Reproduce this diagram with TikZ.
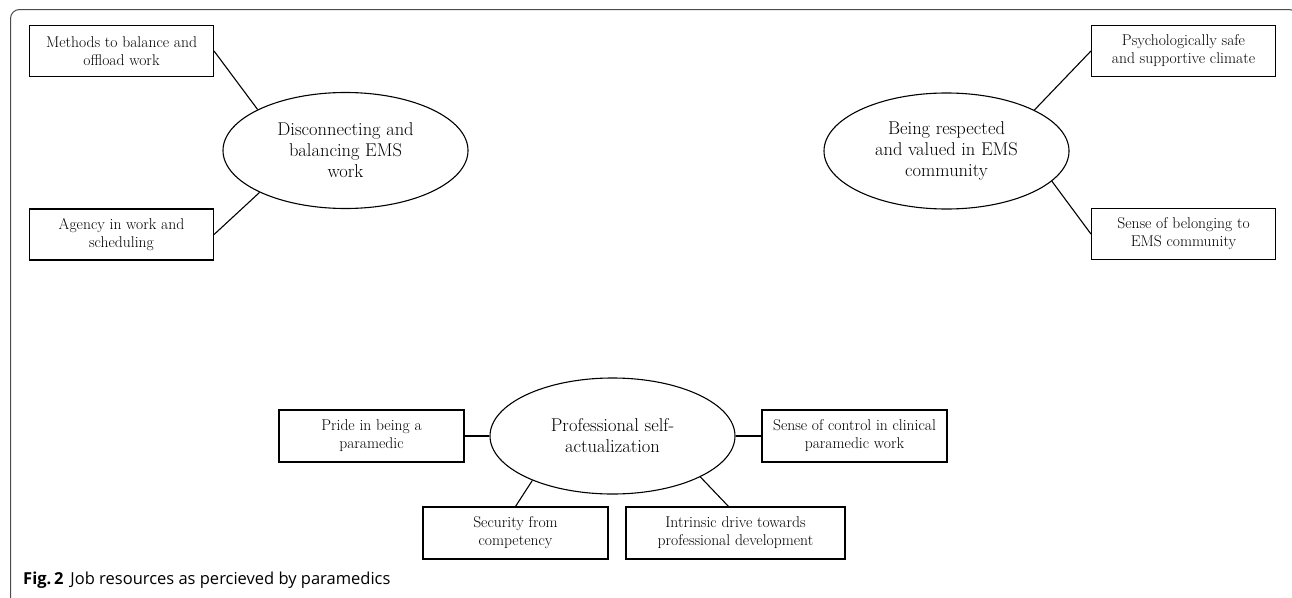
\documentclass[tikz,border=0pt]{standalone}
\usepackage{fontspec}
\newfontfamily\capfont{Open Sans}
\usetikzlibrary{shapes.geometric,calc}
\tikzset{
  boxnode/.style={draw=black, line width=1.1pt, rectangle, align=center, inner sep=0pt,
    minimum width=184pt, minimum height=51pt, font=\fontsize{15.6}{18}\selectfont},
  ellnode/.style={draw=black, line width=1.1pt, ellipse, align=center, inner sep=0pt,
    minimum width=245pt, minimum height=116pt, font=\fontsize{18.5}{21}\selectfont},
  link/.style={draw=black, line width=1.1pt},
  framepath/.style={draw=black!70, line width=1pt, rounded corners=9pt}
}
\begin{document}
\begin{tikzpicture}[x=1pt, y=-1pt]
\clip (0,0) rectangle (1292,597);
\fill[white] (0,0) rectangle (1292,597);
\draw[framepath] (10.5,605) -- (10.5,9.5) -- (1298,9.5) -- (1298,605);

% top-left group
\node[boxnode] (b1) at (121.5,51) {Methods to balance and\\offload work};
\node[boxnode] (b2) at (121.5,234.5) {Agency in work and\\scheduling};
\node[ellnode] (e1) at (345.5,150.5) {Disconnecting and\\balancing EMS\\work};

% top-right group
\node[boxnode] (b3) at (1183.5,51) {Psychologically safe\\and supportive climate};
\node[boxnode] (b4) at (1183.5,234) {Sense of belonging to\\EMS community};
\node[ellnode] (e2) at (946.5,151) {Being respected\\and valued in EMS\\community};

% bottom group
\node[ellnode] (e3) at (612.5,436) {Professional self-\\actualization};
\node[boxnode, minimum width=185pt, minimum height=52pt] (b5) at (371.5,436) {Pride in being a\\paramedic};
\node[boxnode, minimum width=185pt, minimum height=52pt] (b6) at (854.5,436) {Sense of control in clinical\\paramedic work};
\node[boxnode, minimum width=185pt, minimum height=52pt] (b7) at (515.5,533) {Security from\\competency};
\node[boxnode, minimum width=219pt, minimum height=52pt] (b8) at (735.5,533) {Intrinsic drive towards\\professional development};

% connectors
\draw[link] (b1.east) -- (e1.155);
\draw[link] (b2.east) -- (e1.206);
\draw[link] (b3.west) -- (e2.25);
\draw[link] (b4.west) -- (e2.344);
\draw[link] (b5.east) -- (e3.west);
\draw[link] (b6.west) -- (e3.east);
\draw[link] (b7.north) -- (e3.209);
\draw[link] ([xshift=-7pt]b8.north) -- (e3.335);

% caption
\node[anchor=base west, inner sep=0pt, font=\capfont\fontsize{16.5}{19}\selectfont] (cap) at (23,584)
  {\textbf{Fig.\,2}\hspace{7pt}Job resources as percieved by paramedics};
\end{tikzpicture}
\end{document}
